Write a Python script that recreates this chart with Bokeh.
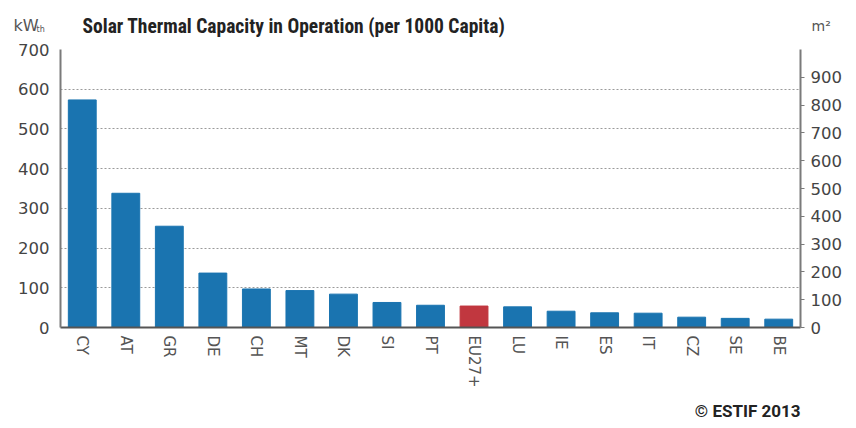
import math
from bokeh.plotting import figure
from bokeh.layouts import column, row
from bokeh.models import (FactorRange, Range1d, LinearAxis, FixedTicker,
                          ColumnDataSource, Title)
from bokeh.core.properties import value
from bokeh.embed import file_html
from bokeh.resources import INLINE

countries = ["CY", "AT", "GR", "DE", "CH", "MT", "DK", "SI", "PT", "EU27+",
             "LU", "IE", "ES", "IT", "CZ", "SE", "BE"]
capacity_kw = [573, 338, 255, 137, 97, 93, 84, 63, 56, 54,
               52, 41, 37, 36, 26, 23, 21]
highlight = "EU27+"
left_ticks = [0, 100, 200, 300, 400, 500, 600, 700]
right_ticks = [0, 100, 200, 300, 400, 500, 600, 700, 800, 900]
kw_per_m2 = 0.7
title_text = "Solar Thermal Capacity in Operation (per 1000 Capita)"
left_unit = "kW"
left_unit_sub = "th"
right_unit = "m²"
source_text = "© ESTIF 2013"

BLUE = "#1a74b0"
RED = "#c1373f"
FONT = "DejaVu Sans"
TITLE_FONT = "Liberation Sans Narrow, Roboto Condensed, Roboto"
W = 848
HEAD_H, MAIN_H = 40, 388

colors = [RED if c == highlight else BLUE for c in countries]
src = ColumnDataSource(dict(x=countries, top=capacity_kw, color=colors))

# header strip (texts above the chart)
head = figure(width=W, height=HEAD_H, output_backend="svg", toolbar_location=None,
              x_range=Range1d(0, W), y_range=Range1d(HEAD_H, 0),
              x_axis_type=None, y_axis_type=None, min_border=0)
head.outline_line_color = None
head.grid.visible = False
head.text(x=[82], y=[26], text=[title_text], text_font=value(TITLE_FONT),
          text_font_style="bold", text_font_size="19.5px", text_color="#222222",
          text_baseline="alphabetic")
head.text(x=[13], y=[25], text=[left_unit], text_font=value(FONT),
          text_font_size="16px", text_color="#555555", text_baseline="alphabetic")
head.text(x=[36], y=[29], text=[left_unit_sub], text_font=value(FONT),
          text_font_size="8px", text_color="#555555", text_baseline="alphabetic")
head.text(x=[811], y=[25], text=[right_unit], text_font=value(FONT),
          text_font_size="14px", text_color="#555555", text_baseline="alphabetic")

# main chart
p = figure(width=W, height=MAIN_H, output_backend="svg", toolbar_location=None,
           x_range=FactorRange(*countries, range_padding=0),
           y_range=Range1d(0, 700),
           min_border_left=60, min_border_right=48, min_border_top=9,
           min_border_bottom=MAIN_H - 9 - 279)
p.outline_line_color = None

p.vbar(x="x", top="top", width=0.64, color="color", source=src)

p.extra_y_ranges = {"m2": Range1d(0, 700 / kw_per_m2)}
ax_r = LinearAxis(y_range_name="m2", ticker=FixedTicker(ticks=right_ticks))
p.add_layout(ax_r, "right")

yl = p.yaxis[0]
yl.ticker = FixedTicker(ticks=left_ticks)

for ax in (yl, ax_r):
    ax.axis_line_color = "#7a7a7a"
    ax.axis_line_width = 2
    ax.major_label_text_font = FONT
    ax.major_label_text_font_size = "16.5px"
    ax.major_label_text_color = "#444444"
    ax.minor_tick_line_color = None
    ax.major_tick_in = 0

yl.major_tick_out = 0
yl.major_label_standoff = 11
ax_r.major_tick_out = 4
ax_r.major_tick_line_color = "#7a7a7a"
ax_r.major_label_standoff = 6

xa = p.xaxis[0]
xa.axis_line_color = "#555555"
xa.axis_line_width = 2
xa.major_tick_out = 0
xa.major_tick_in = 0
xa.major_label_orientation = -math.pi / 2
xa.major_label_text_font = FONT
xa.major_label_text_font_size = "15px"
xa.major_label_text_color = "#555555"
xa.major_label_standoff = 8

p.xgrid.grid_line_color = None
p.ygrid.ticker = FixedTicker(ticks=left_ticks[1:])
p.ygrid.grid_line_color = "#9a9a9a"
p.ygrid.grid_line_dash = "2 2"
p.ygrid.grid_line_width = 1

# source note below the axis
note = Title(text=source_text, align="right", text_font="Roboto",
             text_font_style="bold", text_font_size="17px", text_color="#222222",
             standoff=16, offset=0)
p.add_layout(note, "below")

layout = column(row(head), p, spacing=0)
open("out.html", "w").write(file_html(layout, INLINE))
